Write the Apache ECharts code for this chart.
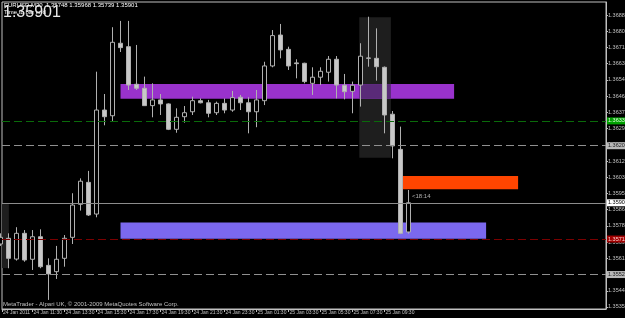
<!DOCTYPE html>
<html><head><meta charset="utf-8">
<script src="https://cdn.jsdelivr.net/npm/echarts@6/dist/echarts.min.js"></script>
<style>html,body{margin:0;padding:0;background:#000;}#c{width:625px;height:318px;}</style>
</head><body><div id="c"></div>
<script>
// ---- data ----
const timeLabels = ['24 Jan 2011','24 Jan 11:30','24 Jan 13:30','24 Jan 15:30','24 Jan 17:30','24 Jan 19:30','24 Jan 21:30','24 Jan 23:30','25 Jan 01:30','25 Jan 03:30','25 Jan 05:30','25 Jan 07:30','25 Jan 09:30'];
const timeLabelBars = [0,4,8,12,16,20,24,28,32,36,40,44,48];
const priceTicks = [1.35355,1.35440,1.35525,1.35610,1.35695,1.35780,1.35865,1.35950,1.36035,1.36120,1.36205,1.36290,1.36375,1.36460,1.36545,1.36630,1.36715,1.36800,1.36885];

const opens = [1.35685,1.35715,1.35606,1.35741,1.35605,1.35723,1.35573,1.35540,1.35610,1.35720,
1.35893,1.36008,1.35842,1.36387,1.36357,1.36737,1.36719,1.36522,1.36501,1.36410,
1.36440,1.36419,1.36286,1.36352,1.36378,1.36436,1.36425,1.36373,1.36422,1.36387,
1.36454,1.36425,1.36378,1.36436,1.36618,1.36780,1.36705,1.36634,1.36632,1.36527,
1.36559,1.36585,1.36653,1.36517,1.36485,1.36518,1.36660,1.36658,1.36611,1.36365,
1.36181,1.35748];
const closes = [1.35720,1.35610,1.35741,1.35601,1.35723,1.35566,1.35528,1.35605,1.35715,1.35889,
1.36014,1.35837,1.36387,1.36352,1.36742,1.36714,1.36518,1.36501,1.36410,1.36440,
1.36419,1.36286,1.36349,1.36373,1.36436,1.36425,1.36370,1.36422,1.36387,1.36452,
1.36425,1.36378,1.36440,1.36618,1.36777,1.36702,1.36618,1.36630,1.36536,1.36559,
1.36590,1.36653,1.36518,1.36483,1.36517,1.36669,1.36658,1.36614,1.36361,1.36199,
1.35741,1.35901];
const highs = [1.35741,1.35741,1.35773,1.35758,1.35758,1.35762,1.35610,1.35675,1.35732,1.35951,
1.36029,1.36068,1.36588,1.36471,1.36821,1.36854,1.36854,1.36728,1.36562,1.36527,
1.36471,1.36422,1.36396,1.36408,1.36457,1.36448,1.36440,1.36431,1.36448,1.36487,
1.36466,1.36454,1.36492,1.36640,1.36806,1.36838,1.36719,1.36653,1.36635,1.36611,
1.36611,1.36670,1.36670,1.36576,1.36536,1.36737,1.36876,1.36815,1.36615,1.36382,
1.36300,1.35968];
const lows = [1.35675,1.35558,1.35598,1.35592,1.35549,1.35558,1.35392,1.35502,1.35566,1.35685,
1.35860,1.35832,1.35825,1.36307,1.36330,1.36691,1.36492,1.36492,1.36408,1.36349,
1.36361,1.36282,1.36268,1.36321,1.36361,1.36422,1.36349,1.36361,1.36370,1.36378,
1.36387,1.36265,1.36297,1.36413,1.36611,1.36658,1.36597,1.36553,1.36527,1.36466,
1.36518,1.36536,1.36448,1.36443,1.36370,1.36405,1.36614,1.36541,1.36265,1.36134,
1.35737,1.35739];

// rectangles: [barFrom, barTo, priceTop, priceBottom]
const shadeLeft   = [-0.2, 1.05, 1.35894, 1.35559];
const shadeRight  = [44.85, 48.8, 1.36873, 1.36137];
const purpleZone  = [15.0, 56.7, 1.36523, 1.36446];
const overlapZone = [44.85, 48.8, 1.36523, 1.36446];
const blueZone    = [15.0, 60.7, 1.35798, 1.35713];
const orangeZone  = [50.2, 64.7, 1.36041, 1.35972];

// horizontal levels
const levelGreen = 1.36330;
const levelGray1 = 1.36200;
const levelBid   = 1.35901;
const levelRed   = 1.35711;
const levelGray2 = 1.35525;

const headerText = 'EURUSD,M30  1.35748 1.35968 1.35739 1.35901';
const timerText = 'Time to bar end';
const bigPrice = '1.35901';
const copyright = 'MetaTrader - Alpari UK, \u00a9 2001-2009 MetaQuotes Software Corp.';
const barTimer = '<18:14';

// ---- chart ----
const X_MIN = 0.1875, X_MAX = 75.6875;
const chart = echarts.init(document.getElementById('c'), null, {renderer:'canvas'});
const candles = opens.map((o,i)=>[i, o, closes[i], lows[i], highs[i]]);
const tickVals = timeLabelBars.map(b => Math.max(b, X_MIN + 0.0001));
const area = (r, color) => [{xAxis:r[0], yAxis:r[2], itemStyle:{color:color, opacity:1}}, {xAxis:r[1], yAxis:r[3]}];
const lvl = (v, color, type, bg, fg) => ({yAxis:v, lineStyle:{color:color, type:type, width:1},
  label:{show:true, position:'end', distance:1, formatter:()=>v.toFixed(5), backgroundColor:bg, color:fg,
    fontSize:5.5, fontFamily:'Liberation Sans', padding:[1,1,0,1]}});

chart.setOption({
  backgroundColor:'#000',
  animation:false,
  grid:{left:2, right:19, top:2, bottom:9, outerBoundsMode:'none', containLabel:false,
    show:true, borderColor:'#c0c0c0', borderWidth:1, backgroundColor:'transparent'},
  xAxis:{type:'value', min:X_MIN, max:X_MAX,
    axisLine:{show:true, lineStyle:{color:'#c0c0c0'}},
    axisTick:{show:true, customValues:tickVals, length:3, inside:false, lineStyle:{color:'#c0c0c0'}},
    splitLine:{show:false},
    axisLabel:{customValues:tickVals, hideOverlap:false, formatter:(v)=>timeLabels[Math.round(v/4)]||'',
      color:'#c0c0c0', fontSize:5, fontFamily:'Liberation Sans', align:'left', margin:1, padding:[0,0,0,1]}},
  yAxis:{type:'value', position:'right', min:1.353444, max:1.369531, scale:true,
    axisLine:{show:true, lineStyle:{color:'#c0c0c0'}},
    axisTick:{show:true, customValues:priceTicks, length:2, lineStyle:{color:'#c0c0c0'}},
    splitLine:{show:false},
    axisLabel:{customValues:priceTicks, formatter:(v)=>v.toFixed(5), color:'#c0c0c0', fontSize:5.5,
      fontFamily:'Liberation Sans', margin:2}},
  series:[
    {type:'line', data:[], z:1, silent:true,
     markArea:{silent:true, data:[
       area(shadeLeft,'#1e1e1e'), area(shadeRight,'#1e1e1e'),
       area(purpleZone,'#9932cc'), area(overlapZone,'#5a2a78'),
       area(blueZone,'#7b68ee'), area(orangeZone,'#ff4500')]}},
    {type:'line', data:[], z:2, silent:true,
     markLine:{silent:true, symbol:'none', precision:5, data:[
       lvl(levelGreen,'#0a6a0a',[8,4],'#00a000','#e0ffe0'),
       lvl(levelGray1,'#909090',[8,4],'#b8b8b8','#202020'),
       lvl(levelRed,'#7a0000',[8,4],'#a00000','#ffd0d0'),
       lvl(levelGray2,'#909090',[8,4],'#b8b8b8','#202020'),
       lvl(levelBid,'#8c8c8c','solid','#ffffff','#000000')]}},
    {type:'candlestick', z:3, data:candles, encode:{x:0, y:[1,2,3,4]}, barWidth:4,
     itemStyle:{color:'#000000', color0:'#c8c8c8', borderColor:'#b0b0b0', borderColor0:'#b0b0b0', borderWidth:1}}
  ],
  graphic:[
    {type:'text', left:4, top:2, z:10, style:{text:headerText, fill:'#ffffff', font:'6px "Liberation Sans"'}},
    {type:'text', left:4, top:9, z:10, style:{text:timerText, fill:'#ffffff', font:'6px "Liberation Sans"'}},
    {type:'text', left:3, top:5, z:11, style:{text:bigPrice, fill:'#e8e8e8', font:'16px "Liberation Sans"'}},
    {type:'text', left:3, top:301, z:10, style:{text:copyright, fill:'#c0c0c0', font:'6px "Liberation Sans"'}},
    {type:'text', left:412, top:193, z:10, style:{text:barTimer, fill:'#b0b0b0', font:'6px "Liberation Sans"'}}
  ]
});
</script></body></html>
